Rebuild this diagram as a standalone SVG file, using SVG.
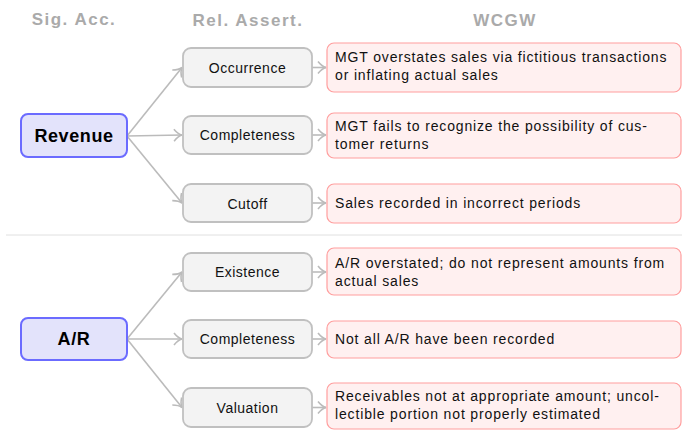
<svg xmlns="http://www.w3.org/2000/svg" width="682" height="430" viewBox="0 0 682 430">
<defs>
<marker id="arr" markerWidth="12" markerHeight="14" refX="10" refY="7" orient="auto" markerUnits="userSpaceOnUse">
<path d="M2,1 Q6,6 10,7 Q6,8 2,13" fill="none" stroke="#bbbbbb" stroke-width="1.6"/>
</marker>
</defs>
<style>
.hdr{font-family:"Liberation Sans",Arial,sans-serif;font-size:17px;font-weight:bold;fill:#aaaaaa;text-anchor:middle;letter-spacing:1.5px}
.acc rect{fill:#e3e3fb;stroke:#6b6bff;stroke-width:2}
.acc text{font-family:"Liberation Sans",Arial,sans-serif;font-size:18px;font-weight:bold;fill:#000;text-anchor:middle;letter-spacing:0.6px}
.ast rect{fill:#f3f3f3;stroke:#c0c0c0;stroke-width:1.8}
.ast text{font-family:"Liberation Sans",Arial,sans-serif;font-size:14px;fill:#111;text-anchor:middle;letter-spacing:0.5px}
.wc rect{fill:#fff0f0;stroke:#ff9e9e;stroke-width:1.2}
.wc text{font-family:"Liberation Sans",Arial,sans-serif;font-size:14px;fill:#111;letter-spacing:0.85px}
.conn line{stroke:#bbbbbb;stroke-width:1.6;fill:none;marker-end:url(#arr)}
</style>
<rect width="682" height="430" fill="#fff"/>
<text class="hdr" x="74" y="25">Sig. Acc.</text>
<text class="hdr" x="248" y="26">Rel. Assert.</text>
<text class="hdr" x="505" y="26">WCGW</text>
<line x1="6" y1="235" x2="682" y2="235" stroke="#e0e0e0" stroke-width="1"/>

<g class="conn">
<line x1="127" y1="136" x2="182" y2="67.5"/>
<line x1="127" y1="136" x2="182" y2="135"/>
<line x1="127" y1="136" x2="182" y2="203"/>
<line x1="127" y1="339" x2="182" y2="272"/>
<line x1="127" y1="339" x2="182" y2="339"/>
<line x1="127" y1="339" x2="182" y2="407.5"/>
<line x1="312" y1="67.5" x2="326" y2="67.5"/>
<line x1="312" y1="135" x2="326" y2="135"/>
<line x1="312" y1="203" x2="326" y2="203"/>
<line x1="312" y1="272" x2="326" y2="272"/>
<line x1="312" y1="339" x2="326" y2="339"/>
<line x1="312" y1="407.5" x2="326" y2="407.5"/>
</g>

<g id="revenue" class="acc"><rect x="21" y="114" width="106" height="43" rx="7"/><text x="74" y="142">Revenue</text></g>
<g id="ar" class="acc"><rect x="21" y="318" width="106" height="42" rx="7"/><text x="74" y="345">A/R</text></g>

<g id="occurrence" class="ast"><rect x="183" y="48" width="129" height="39" rx="8"/><text x="247.5" y="72.5">Occurrence</text></g>
<g id="completeness1" class="ast"><rect x="183" y="116" width="129" height="38" rx="8"/><text x="247.5" y="140">Completeness</text></g>
<g id="cutoff" class="ast"><rect x="183" y="184" width="129" height="38" rx="8"/><text x="247.5" y="208.5">Cutoff</text></g>
<g id="existence" class="ast"><rect x="183" y="253" width="129" height="38" rx="8"/><text x="247.5" y="277">Existence</text></g>
<g id="completeness2" class="ast"><rect x="183" y="320" width="129" height="38" rx="8"/><text x="247.5" y="344">Completeness</text></g>
<g id="valuation" class="ast"><rect x="183" y="388" width="129" height="39" rx="8"/><text x="247.5" y="412.5">Valuation</text></g>

<g id="w1" class="wc"><rect x="327" y="43" width="354" height="49" rx="7"/><text x="335" y="62">MGT overstates sales via fictitious transactions</text><text x="335" y="80">or inflating actual sales</text></g>
<g id="w2" class="wc"><rect x="327" y="113" width="354" height="45" rx="7"/><text x="335" y="131">MGT fails to recognize the possibility of cus-</text><text x="335" y="149">tomer returns</text></g>
<g id="w3" class="wc"><rect x="327" y="184" width="354" height="39" rx="7"/><text x="335" y="208">Sales recorded in incorrect periods</text></g>
<g id="w4" class="wc"><rect x="327" y="248" width="354" height="47" rx="7"/><text x="335" y="268">A/R overstated; do not represent amounts from</text><text x="335" y="286">actual sales</text></g>
<g id="w5" class="wc"><rect x="327" y="321" width="354" height="37" rx="7"/><text x="335" y="344">Not all A/R have been recorded</text></g>
<g id="w6" class="wc"><rect x="327" y="383" width="354" height="46" rx="7"/><text x="335" y="401">Receivables not at appropriate amount; uncol-</text><text x="335" y="419">lectible portion not properly estimated</text></g>
</svg>
